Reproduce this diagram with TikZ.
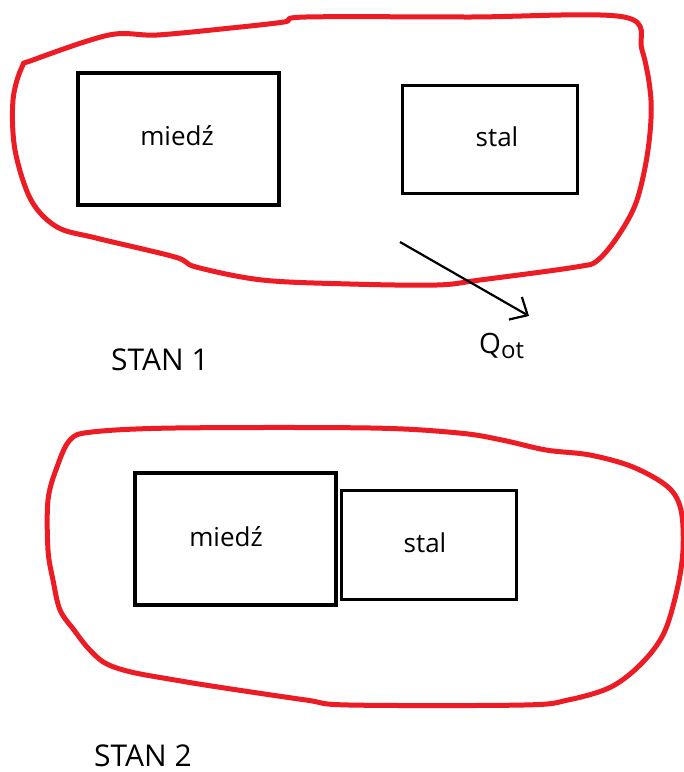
\documentclass[tikz,border=0pt]{standalone}
\usepackage{fontspec}
\setmainfont{Open Sans}
\usetikzlibrary{arrows.meta}
\definecolor{blobred}{RGB}{237,28,36}
\tikzset{
  blob/.style={draw=blobred, line width=5pt, line join=round, line cap=round},
  cubox/.style={draw=black, line width=4pt, minimum width=201pt, minimum height=132pt, inner sep=0pt},
  stbox/.style={draw=black, line width=3pt, minimum width=175pt, minimum height=108pt, inner sep=0pt},
  lbl/.style={inner sep=0pt, anchor=base, font=\fontsize{26}{30}\selectfont},
  title/.style={inner sep=0pt, anchor=base west, font=\fontsize{30}{34}\selectfont},
  heat/.style={draw=black, line width=2.2pt, -{Straight Barb[length=14pt, width=26pt, line width=2.2pt]}}
}
\begin{document}
\begin{tikzpicture}[x=1pt, y=-1pt]
\useasboundingbox (0,0) rectangle (684,772);

% ---- state 1: the two bodies apart ----
\draw[blob] plot[smooth cycle, tension=0.55] coordinates {
  (33,60) (109,35) (157,35) (231,28) (284,22) (306,17) (470,17) (624,17)
  (642,50) (651,100) (648,150) (637,200) (620,233) (598,260) (576,267)
  (480,280) (437,285) (350,284) (262,280) (196,267) (175,257) (96,238)
  (57,227) (31,200) (15,150) (13,100) (22,67)};
\node[cubox] (cu1) at (178.5,139) {};
\node[stbox] (st1) at (490,139.5) {};
\node[lbl] (cu1t) at (177,145) {miedź};
\node[lbl] (st1t) at (497,146) {stal};

% heat leaving the system
\coordinate (qa) at (400,242);
\coordinate (qb) at (529,316);
\draw[heat] (qa) -- (qb);
\node[inner sep=0pt, anchor=base west, font=\fontsize{28}{32}\selectfont] (q) at (479,353)
  {Q\raisebox{-5pt}{\fontsize{24}{28}\selectfont ot}};

\node[title] (s1) at (111,370) {STAN 1};

% ---- state 2: the two bodies in contact ----
\draw[blob] plot[smooth cycle, tension=0.55] coordinates {
  (92,432) (175,428) (371,428) (459,433) (502,440) (546,450) (590,455)
  (633,467) (668,487) (681,510) (683,550) (677,590) (664,633) (642,663)
  (611,687) (568,700) (524,705) (349,705) (306,700) (218,687) (175,680)
  (131,672) (105,663) (88,648) (74,630) (60,610) (53,580) (48,550)
  (48,500) (57,467) (70,440)};
\node[cubox] (cu2) at (235.5,539) {};
\node[stbox, minimum width=174.5pt, minimum height=109pt] (st2) at (429,545) {};
\node[lbl] (cu2t) at (226,546) {miedź};
\node[lbl] (st2t) at (425,552) {stal};

\node[title] (s2) at (94,766) {STAN 2};
\end{tikzpicture}
\end{document}
